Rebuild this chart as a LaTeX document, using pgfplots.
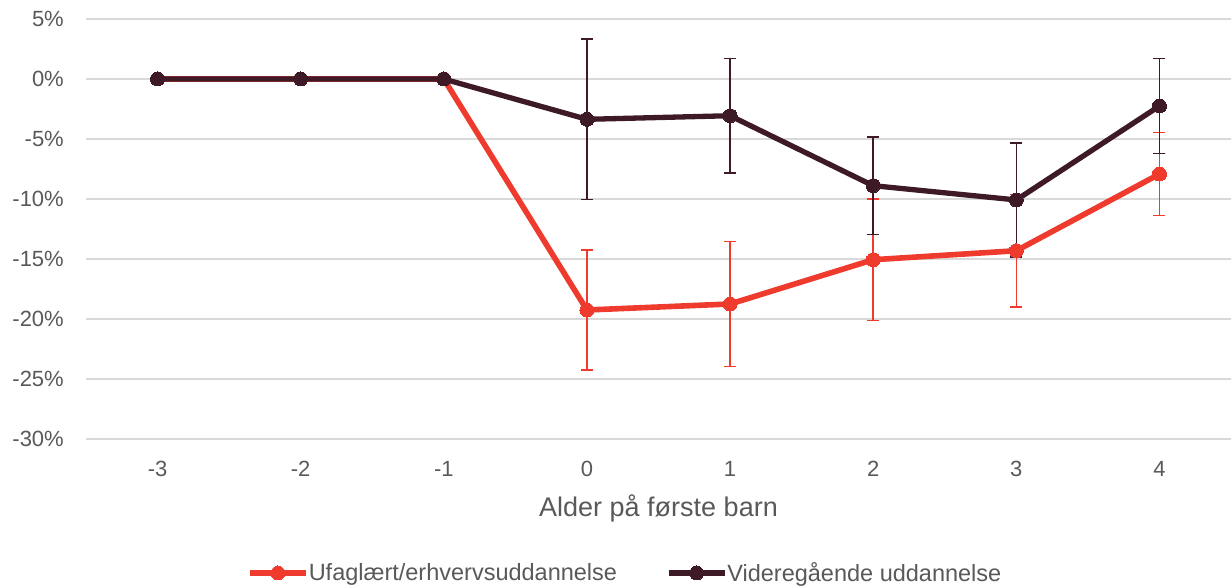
\documentclass[border=0pt]{standalone}
\usepackage{fontspec}
\setmainfont{Liberation Sans}
\usepackage{pgfplots}
\pgfplotsset{compat=1.18}
\definecolor{redc}{RGB}{238,59,46}
\definecolor{darkc}{RGB}{62,26,38}
\definecolor{txt}{RGB}{89,89,89}
\definecolor{gridc}{RGB}{217,217,217}
\begin{document}
\begin{tikzpicture}
\useasboundingbox (-86bp,-149bp) rectangle (1145bp,439bp);
\begin{axis}[at={(0,0)}, anchor=south west, scale only axis, width=1145bp, height=420bp,
  xmin=-3.5, xmax=4.5, ymin=-30, ymax=5,
  xtick={-3,-2,-1,0,1,2,3,4}, xticklabels={-3,-2,-1,0,1,2,3,4},
  ytick={-30,-25,-20,-15,-10,-5,0,5},
  yticklabels={-30\%,-25\%,-20\%,-15\%,-10\%,-5\%,0\%,5\%},
  axis line style={draw=none}, major tick length=0,
  ymajorgrids, grid style={gridc, line width=1.3bp},
  tick label style={font=\fontsize{22bp}{26bp}\selectfont, text=txt},
  xticklabel style={anchor=north, inner sep=0pt, yshift=-22bp},
  yticklabel style={anchor=east, inner sep=0pt, xshift=-22bp},
  xlabel={Alder på første barn},
  xlabel style={font=\fontsize{27bp}{32bp}\selectfont, text=txt, at={(axis description cs:0.5,0)}, anchor=base, yshift=-77.7bp},
  legend style={at={(axis description cs:0.1406,-0.319)}, anchor=west, draw=none, fill=none, inner sep=0pt,
    legend columns=2, font=\fontsize{23.5bp}{28bp}\selectfont, text=txt, nodes={inner sep=0pt}},
  legend image code/.code={\draw[mark repeat=2,mark phase=2,#1] plot coordinates {(0bp,0bp) (28bp,0bp) (56bp,0bp)};},
  line join=round,
]
% red error bars
\addplot[draw=none, mark=none, forget plot,
  error bars/.cd, y dir=both, y explicit,
  error bar style={draw=redc, line width=1.4bp},
  error mark options={draw=redc, rotate=90, mark size=6bp, line width=1.4bp}]
  coordinates {(0,-19.25) +- (0,5.0) (1,-18.75) +- (0,5.23) (2,-15.06) +- (0,5.07) (3,-14.31) +- (0,4.7) (4,-7.92) +- (0,3.48)};
\addplot[redc, line width=5.6bp, mark=*, mark size=7bp, mark options={solid, fill=redc, draw=redc, line width=0pt}]
  coordinates {(-3,0) (-2,0) (-1,0) (0,-19.25) (1,-18.75) (2,-15.06) (3,-14.31) (4,-7.92)};
\addlegendentry{Ufaglært/erhvervsuddannelse\rule{49bp}{0pt}}
% dark error bars
\addplot[draw=none, mark=none, forget plot,
  error bars/.cd, y dir=both, y explicit,
  error bar style={draw=darkc, line width=1.4bp},
  error mark options={draw=darkc, rotate=90, mark size=6bp, line width=1.4bp}]
  coordinates {(0,-3.36) +- (0,6.7) (1,-3.06) +- (0,4.78) (2,-8.89) +- (0,4.06) (3,-10.08) +- (0,4.75) (4,-2.25) +- (0,3.96)};
\addplot[darkc, line width=5.3bp, mark=*, mark size=7bp, mark options={solid, fill=darkc, draw=darkc, line width=0pt}]
  coordinates {(-3,0) (-2,0) (-1,0) (0,-3.36) (1,-3.06) (2,-8.89) (3,-10.08) (4,-2.25)};
\addlegendentry{Videregående uddannelse}
\end{axis}
\end{tikzpicture}
\end{document}
